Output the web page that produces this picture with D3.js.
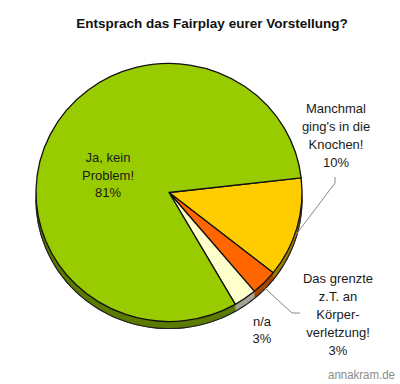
<!DOCTYPE html>
<html><head><meta charset="utf-8">
<script src="https://cdn.jsdelivr.net/npm/d3@7"></script>
<style>body{margin:0;background:#fff;} svg{display:block;font-family:"Liberation Sans",Arial,sans-serif;}</style>
</head><body>
<script>
// slice shares (clockwise from the yellow slice)
const categories = ["Manchmal ging's in die Knochen!", "Das grenzte z.T. an Körperverletzung!", "n/a", "Ja, kein Problem!"];
const shares = [12.5, 3.2, 2.8, 81.5];
const percentLabels = ["10%", "3%", "3%", "81%"];
const labelLines = [
  ["Manchmal", "ging's in die", "Knochen!"],
  ["Das grenzte", "z.T. an", "Körper-", "verletzung!"],
  ["n/a"],
  ["Ja, kein", "Problem!"]
];
const topColors = ["#ffcc00", "#ff6600", "#ffffcc", "#99cc00"];
const sideColors = ["#9c7c00", "#a84300", "#a3a393", "#5b7a00"];
const title = "Entsprach das Fairplay eurer Vorstellung?";
const watermark = "annakram.de";

const W = 400, H = 384;
const svg = d3.select("body").append("svg").attr("width", W).attr("height", H);

svg.append("text").attr("x", 212).attr("y", 28).attr("text-anchor", "middle")
  .attr("font-size", 13.5).attr("font-weight", "bold").attr("fill", "#111").text(title);

const cx = 169, cy = 192.5, r = 133, sy = 0.97, depth = 7;
const start = 83.5 * Math.PI / 180;
const pie = d3.pie().sort(null).value(d => d).startAngle(start).endAngle(start + 2 * Math.PI);
const arcs = pie(shares);
const arc = d3.arc().innerRadius(0).outerRadius(r);

// side (depth)
const sideG = svg.append("g").attr("transform", `translate(${cx},${cy + depth}) scale(1,${sy})`);
sideG.selectAll("path").data(arcs).join("path")
  .attr("d", arc).attr("fill", (d, i) => sideColors[i])
  .attr("stroke", "#222").attr("stroke-width", 1.1).attr("vector-effect", "non-scaling-stroke");
const band = svg.append("g").attr("transform", `translate(${cx},${cy}) scale(1,${sy})`);
arcs.forEach((d, i) => {
  const segs = [];
  [[d.startAngle, d.endAngle], [d.startAngle - 2 * Math.PI, d.endAngle - 2 * Math.PI]].forEach(([s, e]) => {
    const b0 = Math.max(s, Math.PI / 2), b1 = Math.min(e, 3 * Math.PI / 2);
    if (b1 > b0) segs.push([b0, b1]);
  });
  segs.forEach(([b0, b1]) => {
    const n = 40, pts = [];
    for (let k = 0; k <= n; k++) { const a = b0 + (b1 - b0) * k / n; pts.push([r * Math.sin(a), -r * Math.cos(a)]); }
    for (let k = n; k >= 0; k--) { const a = b0 + (b1 - b0) * k / n; pts.push([r * Math.sin(a), -r * Math.cos(a) + depth / sy]); }
    band.append("path").attr("d", d3.line()(pts) + "Z").attr("fill", sideColors[i]).attr("stroke", "none");
  });
});
band.append("path").attr("d", () => {
  const pts = []; const n = 80;
  for (let k = 0; k <= n; k++) { const a = Math.PI / 2 + Math.PI * k / n; pts.push([r * Math.sin(a), -r * Math.cos(a) + depth / sy]); }
  return d3.line()(pts);
}).attr("fill", "none").attr("stroke", "#222").attr("stroke-width", 1.1).attr("vector-effect", "non-scaling-stroke");

// top surface
const topG = svg.append("g").attr("transform", `translate(${cx},${cy}) scale(1,${sy})`);
topG.selectAll("path").data(arcs).join("path")
  .attr("d", arc).attr("fill", (d, i) => topColors[i])
  .attr("stroke", "#111").attr("stroke-width", 1.3).attr("vector-effect", "non-scaling-stroke")
  .attr("stroke-linejoin", "round");

// leader lines
const lead = svg.append("g").attr("fill", "none").attr("stroke", "#888").attr("stroke-width", 1);
const edge = (i, frac, extra) => {
  const a = arcs[i].startAngle + (arcs[i].endAngle - arcs[i].startAngle) * frac;
  return [cx + r * Math.sin(a), cy - r * Math.cos(a) * sy + (extra || 0)];
};
const p0 = edge(0, 0.55, 4);
lead.append("path").attr("d", d3.line()([[p0[0] - 1, p0[1]], [335, 183], [335, 177]]));
const p1 = edge(1, 0.5, 5);
lead.append("path").attr("d", d3.line()([p1, [292, 313], [300, 313]]));

// labels
const lbl = svg.append("g").attr("font-size", 13).attr("fill", "#1a1a1a").attr("text-anchor", "middle");
const labelPos = [[336, 113, 18], [338, 283, 18], [262, 326, 17], [108, 162, 17.5]];
labelLines.forEach((lines, i) => {
  const [x, y, dy] = labelPos[i];
  lines.concat([percentLabels[i]]).forEach((t, k) => lbl.append("text").attr("x", x).attr("y", y + k * dy).text(t));
});

svg.append("text").attr("x", 328).attr("y", 379)
  .attr("font-size", 12.5).attr("textLength", 67).attr("lengthAdjust", "spacingAndGlyphs")
  .attr("fill", "#8c8c8c").text(watermark);
</script>
</body></html>
